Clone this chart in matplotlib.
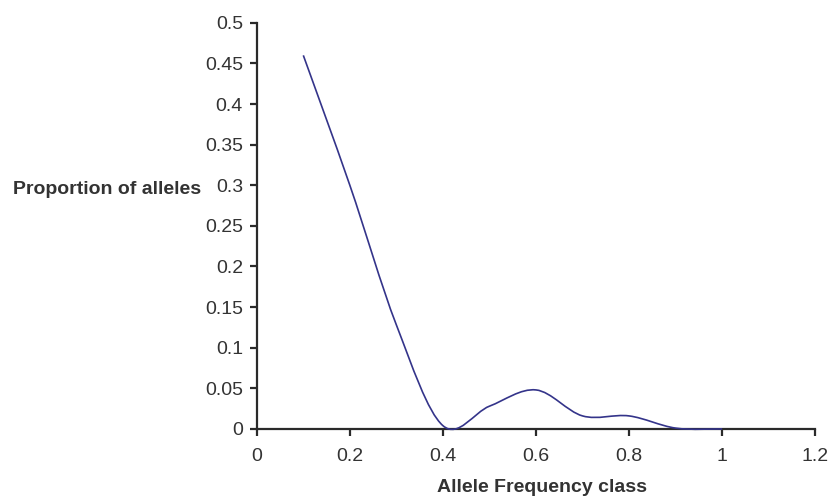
import numpy as np
import matplotlib
matplotlib.use("Agg")
import matplotlib.pyplot as plt
from matplotlib.path import Path
from matplotlib.patches import PathPatch

# allele frequency classes and proportion of alleles
freq_class = [0.1, 0.2, 0.3, 0.4, 0.5, 0.6, 0.7, 0.8, 0.9, 1.0]
proportion = [0.46, 0.30, 0.128, 0.004, 0.028, 0.048, 0.016, 0.016, 0.001, 0.0]

x_ticks = [0, 0.2, 0.4, 0.6, 0.8, 1, 1.2]
x_ticklabels = ["0", "0.2", "0.4", "0.6", "0.8", "1", "1.2"]
y_ticks = [0, 0.05, 0.1, 0.15, 0.2, 0.25, 0.3, 0.35, 0.4, 0.45, 0.5]
y_ticklabels = ["0", "0.05", "0.1", "0.15", "0.2", "0.25", "0.3", "0.35",
                "0.4", "0.45", "0.5"]

LINE_COLOR = "#34348a"
AXIS_COLOR = "#2a2a2a"
TEXT_COLOR = "#333333"

plt.rcParams.update({
    "font.family": ["Liberation Sans", "DejaVu Sans"],
    "font.size": 14,
})


def smooth_path(xs, ys):
    """Excel-style smoothed line: cubic Bezier segments with
    Catmull-Rom control points."""
    pts = np.column_stack([xs, ys]).astype(float)
    n = len(pts)
    verts = [pts[0]]
    codes = [Path.MOVETO]
    for i in range(n - 1):
        p0 = pts[i - 1] if i > 0 else pts[i]
        p1 = pts[i]
        p2 = pts[i + 1]
        p3 = pts[i + 2] if i + 2 < n else pts[i + 1]
        c1 = p1 + (p2 - p0) / 6.0
        c2 = p2 - (p3 - p1) / 6.0
        verts += [c1, c2, p2]
        codes += [Path.CURVE4] * 3
    return Path(verts, codes)


fig = plt.figure(figsize=(8.31, 4.97), dpi=100)
ax = fig.add_axes([0.309, 0.137, 0.672, 0.817])

patch = PathPatch(smooth_path(freq_class, proportion), facecolor="none",
                  edgecolor=LINE_COLOR, lw=1.2, clip_on=False, zorder=3)
ax.add_patch(patch)

ax.set_xlim(0, 1.2)
ax.set_ylim(0, 0.5)
ax.set_xticks(x_ticks)
ax.set_xticklabels(x_ticklabels)
ax.set_yticks(y_ticks)
ax.set_yticklabels(y_ticklabels)

ax.spines[["top", "right"]].set_visible(False)
for s in ("left", "bottom"):
    ax.spines[s].set_linewidth(1.6)
    ax.spines[s].set_color(AXIS_COLOR)
ax.tick_params(direction="out", length=5, width=1.6, colors=AXIS_COLOR,
               labelcolor=TEXT_COLOR)
ax.tick_params(axis="y", pad=5)
ax.tick_params(axis="x", pad=9)

ax.set_xlabel("Allele Frequency class", fontweight="bold", color=TEXT_COLOR)
ax.xaxis.set_label_coords(0.511, -0.145, transform=ax.transAxes)
ax.xaxis.label.set_va("center")
fig.text(0.016, (497 - 189) / 497, "Proportion of alleles",
         fontweight="bold", ha="left", va="center", color=TEXT_COLOR)

fig.savefig("out.png", dpi=100)
